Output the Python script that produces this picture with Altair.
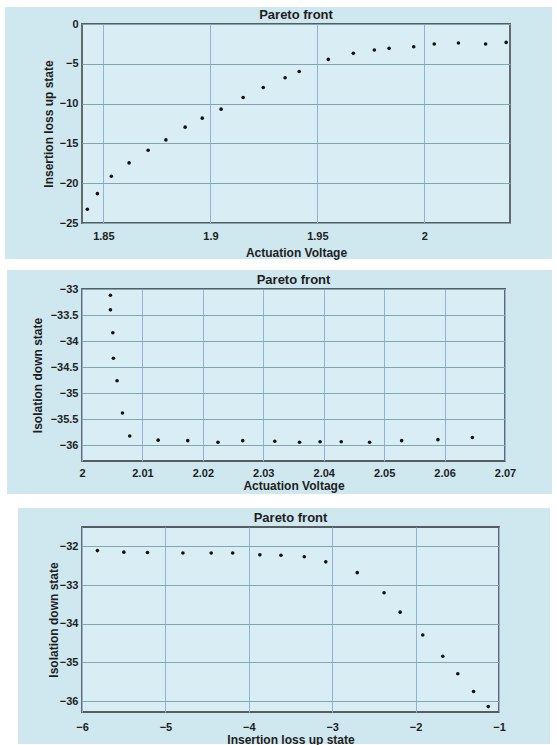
import altair as alt
import pandas as pd

# ---------------- data ----------------
# Panel 1: Insertion loss up state vs Actuation Voltage
p1_voltage = [1.8425, 1.8472, 1.8537, 1.8620, 1.8709, 1.8792, 1.8882, 1.8962,
              1.9050, 1.9153, 1.9247, 1.9349, 1.9415, 1.9551, 1.9668, 1.9766,
              1.9835, 1.9950, 2.0046, 2.0159, 2.0286, 2.0382]
p1_insertion = [-23.28, -21.31, -19.13, -17.45, -15.86, -14.56, -12.96, -11.83,
                -10.70, -9.23, -7.97, -6.75, -5.96, -4.45, -3.69, -3.27,
                -3.06, -2.85, -2.52, -2.39, -2.52, -2.31]

# Panel 2: Isolation down state vs Actuation Voltage
p2_voltage = [2.0047, 2.0047, 2.0051, 2.0052, 2.0058, 2.0067, 2.0079, 2.0126,
              2.0175, 2.0225, 2.0266, 2.0319, 2.0360, 2.0394, 2.0429, 2.0476,
              2.0529, 2.0589, 2.0646]
p2_isolation = [-33.12, -33.40, -33.84, -34.33, -34.76, -35.38, -35.82, -35.90,
                -35.91, -35.94, -35.91, -35.92, -35.94, -35.93, -35.93, -35.94,
                -35.91, -35.89, -35.85]

# Panel 3: Isolation down state vs Insertion loss up state
p3_insertion = [-5.815, -5.498, -5.215, -4.790, -4.451, -4.193, -3.867, -3.614,
                -3.335, -3.077, -2.700, -2.378, -2.185, -1.914, -1.674, -1.494,
                -1.305, -1.129]
p3_isolation = [-32.11, -32.15, -32.16, -32.17, -32.17, -32.17, -32.22, -32.23,
                -32.27, -32.40, -32.68, -33.20, -33.70, -34.29, -34.84, -35.29,
                -35.75, -36.14]

p1_xticks = [1.85, 1.9, 1.95, 2.0]
p1_yticks = [0, -5, -10, -15, -20, -25]
p2_xticks = [2.0, 2.01, 2.02, 2.03, 2.04, 2.05, 2.06, 2.07]
p2_yticks = [-33, -33.5, -34, -34.5, -35, -35.5, -36]
p3_xticks = [-6, -5, -4, -3, -2, -1]
p3_yticks = [-32, -33, -34, -35, -36]

panel_title = "Pareto front"

# ---------------- style ----------------
BG = "#cfe7ef"
PLOT = "#d8eef4"
FRAME = "#585c5e"
XGRID = "#93b1dc"
YGRID = "#83a7b0"
TXT = "#1e1e1e"
FONT = "Liberation Sans"


def panel(df, xcol, ycol, xtitle, ytitle, xdom, ydom, xticks, yticks,
          w, h, bg_box, ytitle_x, xtitle_y, xlabpad):
    one = pd.DataFrame({"k": [0]})
    bx1, bx2, by1, by2 = bg_box
    bg = alt.Chart(one).mark_rect(color=BG).encode(
        x=alt.value(bx1), x2=alt.value(bx2), y=alt.value(by1), y2=alt.value(by2)
    )
    plot_bg = alt.Chart(one).mark_rect(
        fill=PLOT, stroke=FRAME, strokeWidth=1.8
    ).encode(x=alt.value(0), x2=alt.value(w), y=alt.value(0), y2=alt.value(h))
    ttl = alt.Chart(one).mark_text(
        text=panel_title, font=FONT, fontSize=13, fontWeight="bold", color=TXT,
        baseline="middle", align="center"
    ).encode(x=alt.value(w / 2), y=alt.value(-9))

    xaxis = alt.Axis(
        values=xticks, format="~g", grid=True, gridColor=XGRID, gridWidth=1,
        domain=False, ticks=False, labelPadding=xlabpad, labelFont=FONT,
        labelFontSize=11, labelFontWeight="bold", labelColor=TXT,
        title=xtitle, titleFont=FONT, titleFontSize=12, titleFontWeight="bold",
        titleColor=TXT, titleX=w / 2, titleY=xtitle_y, titleBaseline="middle",
        titleAlign="center", zindex=1, labelFlush=False, labelOverlap=False,
    )
    yaxis = alt.Axis(
        values=yticks, format="~g", grid=True, gridColor=YGRID, gridWidth=1,
        domain=False, ticks=False, labelPadding=4, labelFont=FONT,
        labelFontSize=11, labelFontWeight="bold", labelColor=TXT,
        title=ytitle, titleFont=FONT, titleFontSize=12, titleFontWeight="bold",
        titleColor=TXT, titleX=ytitle_x, titleY=h / 2, titleAngle=-90,
        titleBaseline="middle", titleAlign="center", zindex=1,
        labelFlush=False, labelOverlap=False,
    )
    pts = alt.Chart(df).mark_circle(size=13, color="#111111", opacity=1).encode(
        x=alt.X(f"{xcol}:Q", scale=alt.Scale(domain=xdom, nice=False, zero=False),
                axis=xaxis),
        y=alt.Y(f"{ycol}:Q", scale=alt.Scale(domain=ydom, nice=False, zero=False),
                axis=yaxis),
    )
    return alt.layer(bg, plot_bg, pts, ttl).properties(width=w, height=h)


df1 = pd.DataFrame({"v": p1_voltage, "il": p1_insertion})
df2 = pd.DataFrame({"v": p2_voltage, "iso": p2_isolation})
df3 = pd.DataFrame({"il": p3_insertion, "iso": p3_isolation})

c1 = panel(df1, "v", "il", "Actuation Voltage", "Insertion loss up state",
           [1.84, 2.04], [-25, 0], p1_xticks, p1_yticks,
           428, 199, (-77, 470, -17, 235), -34, 29, 7)
c2 = panel(df2, "v", "iso", "Actuation Voltage", "Isolation down state",
           [2.0, 2.07], [-36.3, -33], p2_xticks, p2_yticks,
           423, 172, (-75, 470, -19, 205), -45, 24, 6)
c3 = panel(df3, "il", "iso", "Insertion loss up state", "Isolation down state",
           [-6, -1], [-36.28, -31.5], p3_xticks, p3_yticks,
           417, 185, (-64, 468, -19, 217), -29, 27, 9)

chart = alt.vconcat(c1, c2, c3, spacing=66, bounds="flush").properties(
    padding={"left": 5, "top": 7, "right": 0, "bottom": 0},
    background="white",
).configure_view(stroke=None)

chart.save("out.html", embed_options={"renderer": "svg", "actions": False})
